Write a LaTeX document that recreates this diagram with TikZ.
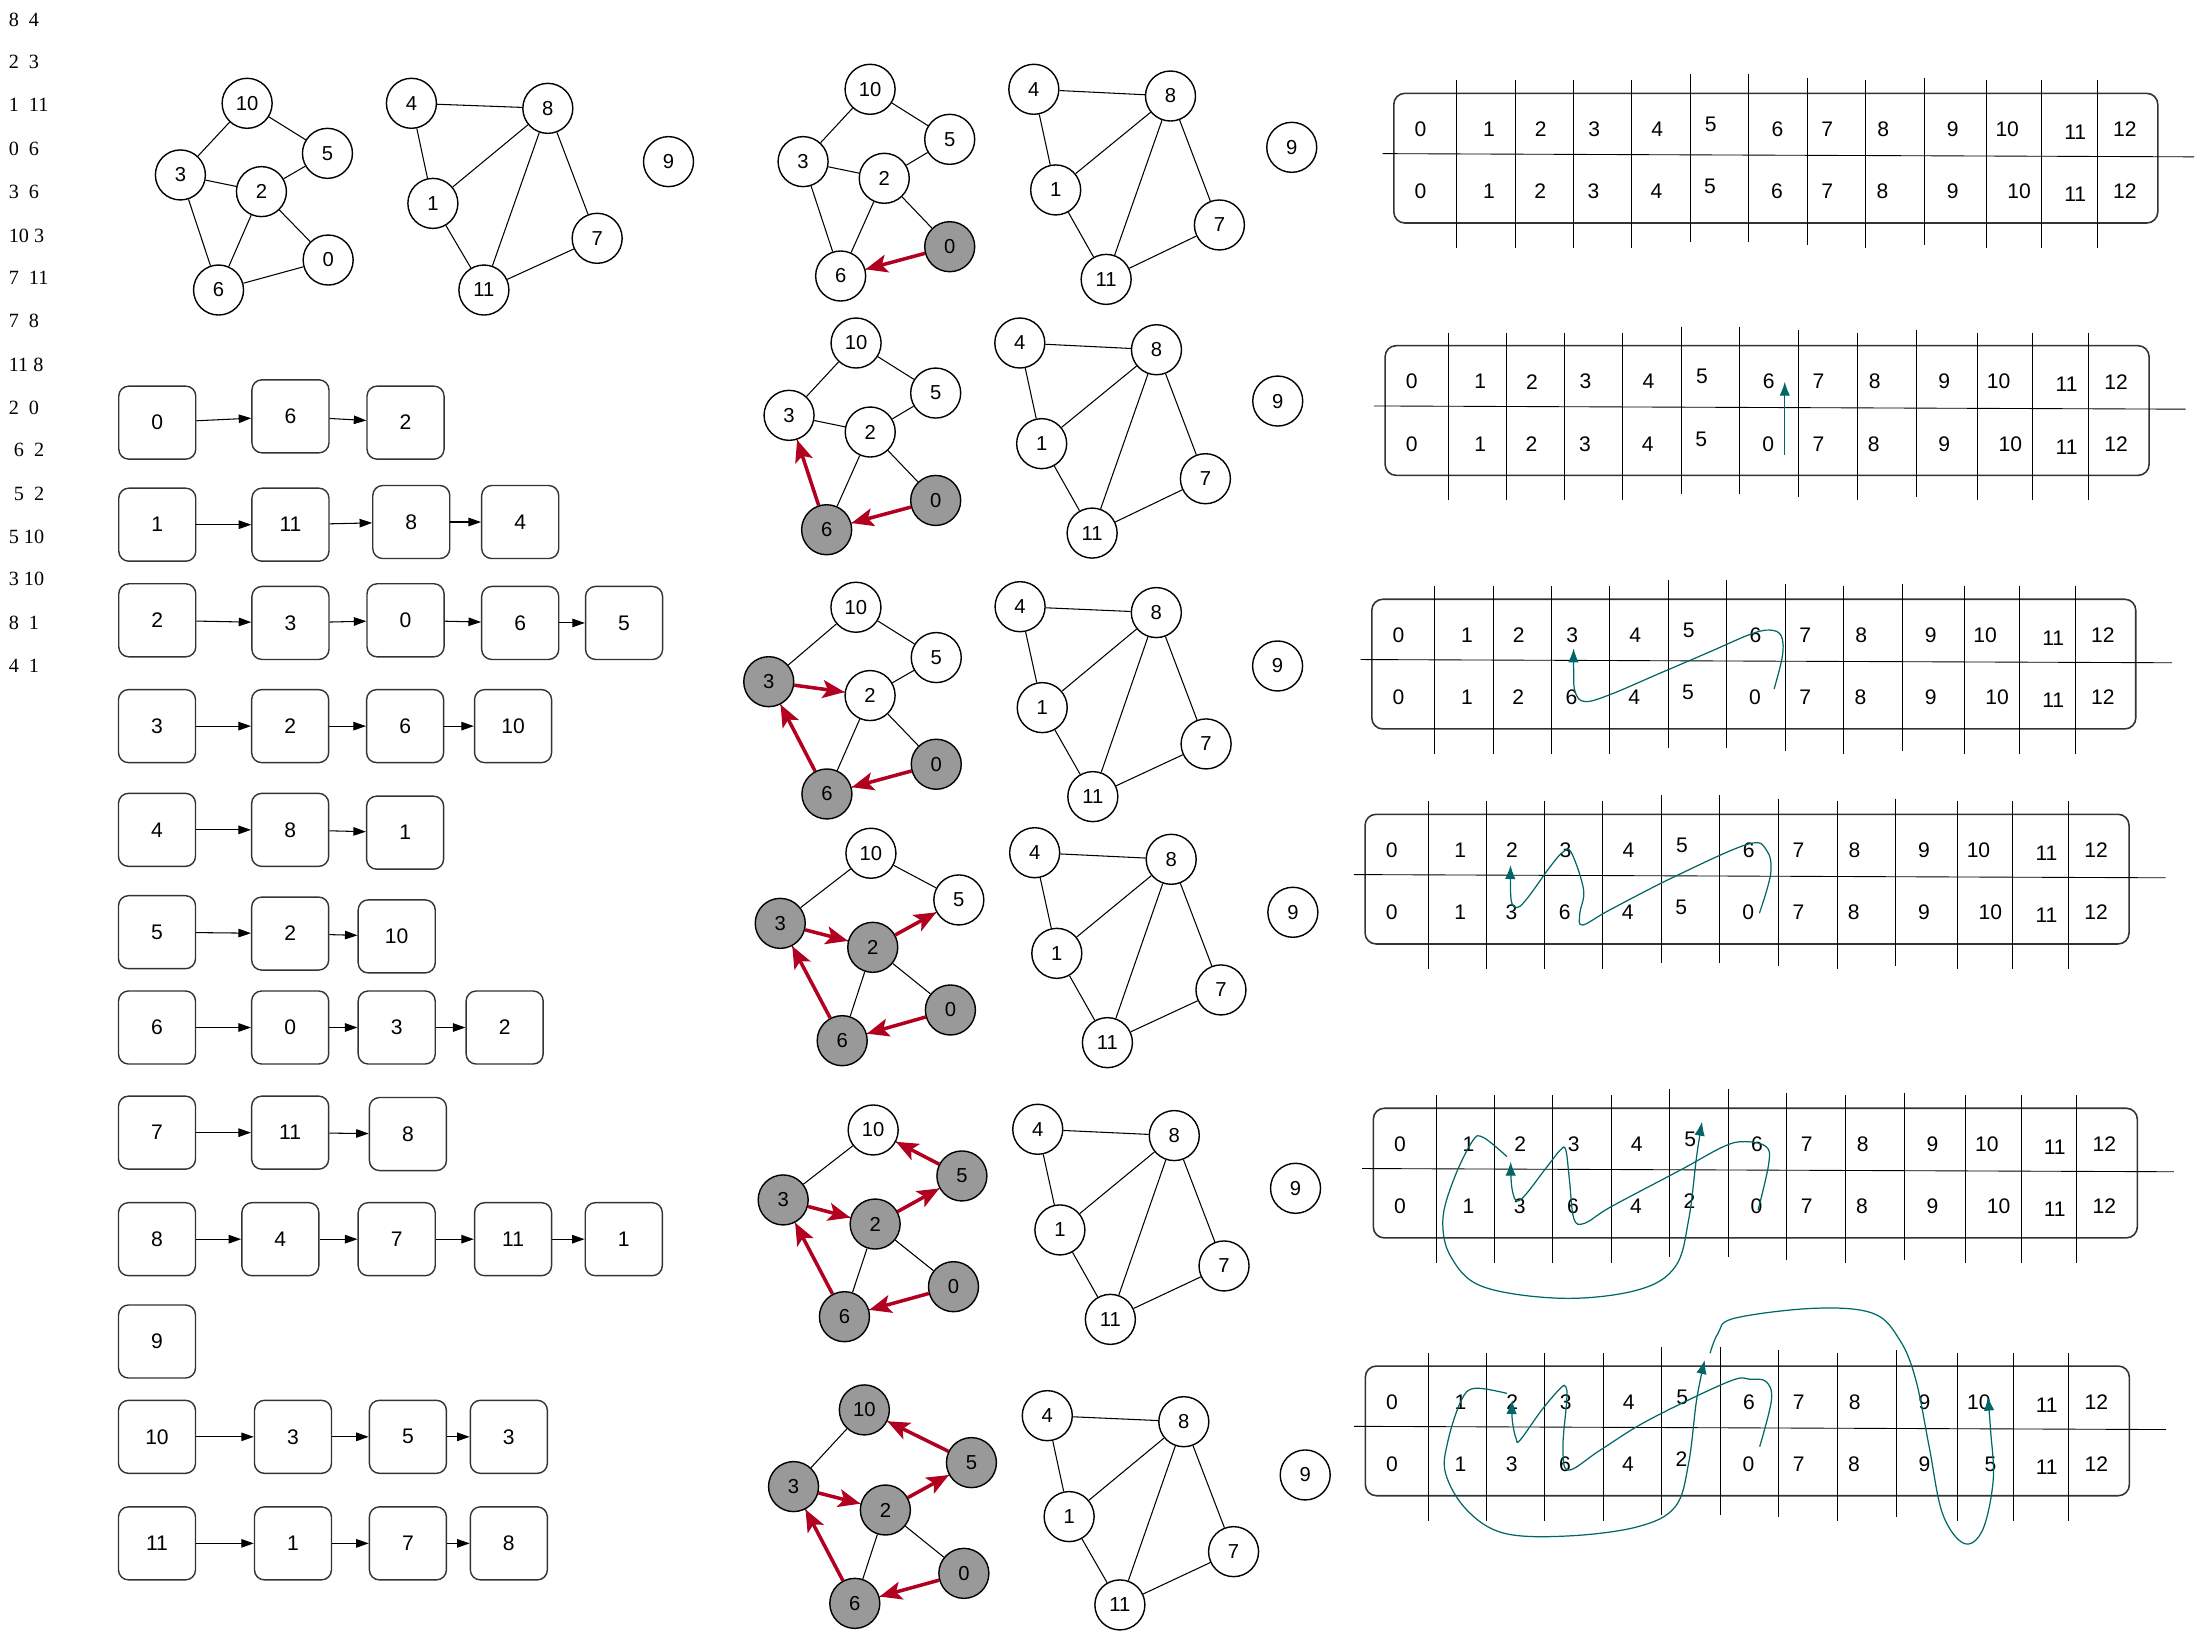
\documentclass[tikz,border=0pt]{standalone}
\usepackage{fontspec}
\setmainfont{Liberation Sans}
\newfontfamily\listfont{Liberation Serif}
\usetikzlibrary{arrows.meta}
\definecolor{nodegray}{RGB}{153,153,153}
\definecolor{dfsred}{RGB}{178,0,32}
\definecolor{traceteal}{RGB}{0,102,102}
\definecolor{framegray}{RGB}{51,51,51}
\tikzset{
  vtx/.style={circle, draw=black, line width=0.8pt, minimum size=1.0cm, inner sep=0pt,
              font=\fontsize{11.5}{13}\selectfont},
  edge/.style={line width=0.6pt},
  tree/.style={draw=dfsred, line width=2pt, -{Stealth[length=0.44cm,width=0.36cm,inset=0.1cm]}},
  cell/.style={draw=framegray, rounded corners=0.2cm, line width=0.8pt, minimum width=1.54cm,
               minimum height=1.46cm, font=\fontsize{12}{14}\selectfont},
  link/.style={line width=0.6pt, -{Triangle[length=0.25cm,width=0.17cm]}},
  tabframe/.style={draw=framegray, line width=0.9pt, rounded corners=0.22cm},
  tabrule/.style={line width=0.5pt},
  lbl/.style={inner sep=1pt, font=\fontsize{12}{14}\selectfont},
  trace/.style={draw=traceteal, line width=0.7pt, -{Latex[length=0.28cm,width=0.21cm]}},
  pair/.style={anchor=west, inner sep=0pt, font=\listfont\fontsize{11.5}{13}\selectfont},
}
% the fifteen edges of the graph, for a given node prefix
\newcommand{\graphedges}[1]{%
  \foreach \a/\b in {10/3,10/5,3/2,5/2,3/6,2/6,2/0,6/0,4/8,4/1,8/1,8/11,8/7,1/11,7/11}
    \draw[edge] (#1\a) -- (#1\b);}
% index / value table: #1 name, #2 top-left corner, #3 bottom row
\newcommand{\drawtable}[3]{%
  \begin{scope}[shift={#2}]
    \draw[tabframe] (0,0) rectangle (545,92.5);
    \draw[tabrule] (-8,43) -- (571,45.3);
    \foreach \x/\a/\b in {45/9.3/17.8, 86.5/9.3/17.8, 128/9.3/17.8, 169.5/9.3/17.8,
        211.4/13.6/13.6, 253.1/13.6/13.6, 295/11.2/15.5, 336.8/9.3/17.8,
        378.7/11.2/15.5, 422.7/9.3/17.8, 462/9.3/17.8, 501.7/9.3/17.8}
      \draw[tabrule] (\x,-\a) -- (\x,92.5+\b);
    \foreach \v [count=\k from 0] in {#3} {
      \pgfmathsetmacro{\cx}{{19,67.9,104.8,143,187.9,226.1,273.7,309.2,349.2,398.8,437.6,486.1,521.5}[\k]}
      \pgfmathsetmacro{\bx}{{19,67.9,104.5,142.5,187.3,225.5,273.3,309.2,348.6,398.8,446,486.1,521.5}[\k]}
      \pgfmathsetmacro{\dy}{{0,0,0,0,0,-3.6,0,0,0,0,0,2,0}[\k]}
      \pgfmathsetmacro{\ty}{25.7+\dy}
      \pgfmathsetmacro{\by}{70.1+\dy}
      \node[lbl] (#1t\k) at (\cx,\ty) {\k};
      \node[lbl] (#1b\k) at (\bx,\by) {\v};
    }
  \end{scope}}

\begin{document}
\begin{tikzpicture}[x=0.028036cm, y=-0.028036cm]
  \useasboundingbox (0,0) rectangle (1568,1174);

  % edge list
  \node[pair] (e1) at (6,14) {8\ \ 4};
  \node[pair] (e2) at (6,44) {2\ \ 3};
  \node[pair] (e3) at (6,75) {1\ \ 11};
  \node[pair] (e4) at (6,106) {0\ \ 6};
  \node[pair] (e5) at (6,137) {3\ \ 6};
  \node[pair] (e6) at (6,168) {10\ 3};
  \node[pair] (e7) at (6,198) {7\ \ 11};
  \node[pair] (e8) at (6,229) {7\ \ 8};
  \node[pair] (e9) at (6,260) {11\ 8};
  \node[pair] (e10) at (6,291) {2\ \ 0};
  \node[pair] (e11) at (6,321) {\ 6\ \ 2};
  \node[pair] (e12) at (6,352) {\ 5\ \ 2};
  \node[pair] (e13) at (6,383) {5\ 10};
  \node[pair] (e14) at (6,413) {3\ 10};
  \node[pair] (e15) at (6,444) {8\ \ 1};
  \node[pair] (e16) at (6,475) {4\ \ 1};

  % the graph
  \foreach \v/\x/\y in {10/176.3/73.7, 5/233.6/109.4, 3/128.7/124.8, 2/186.5/136.7, 0/234.1/185.5,
      6/155.9/206.9, 4/293.5/73.7, 8/390.8/77.3, 1/308.8/145.1, 7/426/170, 11/345.2/206.9, 9/476.9/115.3}
    \node[vtx] (g\v) at (\x,\y) {\v};
  \graphedges{g}

  % adjacency lists
  \node[cell] (r0c0) at (112.2,301.5) {0};
  \node[cell] (r0c1) at (207.2,297) {6};
  \node[cell] (r0c2) at (289.3,301.5) {2};
  \node[cell] (r1c0) at (112.2,374.3) {1};
  \node[cell] (r1c1) at (207.2,374.3) {11};
  \node[cell] (r1c2) at (293.4,372.4) {8};
  \node[cell] (r1c3) at (371.1,372.4) {4};
  \node[cell] (r2c0) at (112.2,442.5) {2};
  \node[cell] (r2c1) at (207.2,444.4) {3};
  \node[cell] (r2c2) at (289.3,442.5) {0};
  \node[cell] (r2c3) at (371.1,444.4) {6};
  \node[cell] (r2c4) at (445.2,444.4) {5};
  \node[cell] (r3c0) at (112,518) {3};
  \node[cell] (r3c1) at (207,518) {2};
  \node[cell] (r3c2) at (289,518) {6};
  \node[cell] (r3c3) at (366,518) {10};
  \node[cell] (r4c0) at (112,592) {4};
  \node[cell] (r4c1) at (207,592) {8};
  \node[cell] (r4c2) at (289,594) {1};
  \node[cell] (r5c0) at (112,665) {5};
  \node[cell] (r5c1) at (207,666) {2};
  \node[cell] (r5c2) at (283,668) {10};
  \node[cell] (r6c0) at (112,733) {6};
  \node[cell] (r6c1) at (207,733) {0};
  \node[cell] (r6c2) at (283,733) {3};
  \node[cell] (r6c3) at (360,733) {2};
  \node[cell] (r7c0) at (112,808) {7};
  \node[cell] (r7c1) at (207,808) {11};
  \node[cell] (r7c2) at (291,809) {8};
  \node[cell] (r8c0) at (112,884) {8};
  \node[cell] (r8c1) at (200,884) {4};
  \node[cell] (r8c2) at (283,884) {7};
  \node[cell] (r8c3) at (366,884) {11};
  \node[cell] (r8c4) at (445,884) {1};
  \node[cell] (r9c0) at (112,957) {9};
  \node[cell] (r10c0) at (112,1025) {10};
  \node[cell] (r10c1) at (209,1025) {3};
  \node[cell] (r10c2) at (291,1025) {5};
  \node[cell] (r10c3) at (363,1025) {3};
  \node[cell] (r11c0) at (112,1101) {11};
  \node[cell] (r11c1) at (209,1101) {1};
  \node[cell] (r11c2) at (291,1101) {7};
  \node[cell] (r11c3) at (363,1101) {8};
  \foreach \r/\n in {0/2, 1/3, 2/4, 3/3, 4/2, 5/2, 6/3, 7/2, 8/4, 10/3, 11/3}
    \foreach \c in {1,...,\n} {
      \pgfmathtruncatemacro{\p}{\c-1}
      \draw[link] (r\r c\p) -- (r\r c\c);
    }

  % DFS steps
  \foreach \v/\x/\y/\f in {10/620.7/63.7/white, 5/677.5/99.4/white, 3/572.9/115.3/white,
      2/630.8/127.2/white, 0/677.5/176/nodegray, 6/599.7/196.9/white, 4/737.5/63.7/white,
      8/835/68.5/white, 1/753.1/135.5/white, 7/869.9/160.5/white, 11/789.1/199.3/white, 9/921.5/105.1/white}
    \node[vtx, fill=\f] (s1n\v) at (\x,\y) {\v};
  \graphedges{s1n}
  \draw[tree] (s1n0) -- (s1n6);

  \foreach \v/\x/\y/\f in {10/610.7/244.7/white, 5/667.5/280.4/white, 3/562.9/296.3/white,
      2/620.8/308.2/white, 0/667.5/357/nodegray, 6/589.7/377.9/nodegray, 4/727.5/244.7/white,
      8/825/249.5/white, 1/743.1/316.5/white, 7/859.9/341.5/white, 11/779.1/380.3/white, 9/911.5/286.1/white}
    \node[vtx, fill=\f] (s2n\v) at (\x,\y) {\v};
  \graphedges{s2n}
  \foreach \a/\b in {0/6, 6/3} \draw[tree] (s2n\a) -- (s2n\b);

  \foreach \v/\x/\y/\f in {10/610.6/433.2/white, 5/667.9/469.1/white, 3/548.4/486.3/nodegray,
      2/620.7/496.2/white, 0/667.9/545.2/nodegray, 6/589.9/566.4/nodegray, 4/727.7/432.8/white,
      8/824.9/437/white, 1/743.5/504.8/white, 7/860.4/530.7/white, 11/779.6/568.3/white, 9/911.4/475.1/white}
    \node[vtx, fill=\f] (s3n\v) at (\x,\y) {\v};
  \graphedges{s3n}
  \foreach \a/\b in {0/6, 6/3, 3/2} \draw[tree] (s3n\a) -- (s3n\b);

  \foreach \v/\x/\y/\f in {10/621.3/608.7/white, 5/684/642/white, 3/556.6/658.7/nodegray,
      2/622.6/675.8/nodegray, 0/678/720.5/nodegray, 6/600.8/742.4/nodegray, 4/738.1/608.3/white,
      8/835.5/613/white, 1/753.9/680.1/white, 7/871/706.2/white, 11/790/743.8/white, 9/922.3/650.8/white}
    \node[vtx, fill=\f] (s4n\v) at (\x,\y) {\v};
  \graphedges{s4n}
  \foreach \a/\b in {0/6, 6/3, 3/2, 2/5} \draw[tree] (s4n\a) -- (s4n\b);

  \foreach \v/\x/\y/\f in {10/622.9/806.1/white, 5/686.2/838.9/nodegray, 3/558.7/856/nodegray,
      2/624.3/873.2/nodegray, 0/680.2/917.9/nodegray, 6/602.4/939.3/nodegray, 4/740.3/805.6/white,
      8/837.7/810.1/white, 1/756.1/877.4/white, 7/873.2/903.1/white, 11/792.1/941.2/white, 9/924.2/847.7/white}
    \node[vtx, fill=\f] (s5n\v) at (\x,\y) {\v};
  \graphedges{s5n}
  \foreach \a/\b in {0/6, 6/3, 3/2, 2/5, 5/10} \draw[tree] (s5n\a) -- (s5n\b);

  \foreach \v/\x/\y/\f in {10/616.6/1005.8/nodegray, 5/693/1043.4/nodegray, 3/566.1/1060.5/nodegray,
      2/631.6/1077.2/nodegray, 0/687.6/1122.4/nodegray, 6/609.8/1143.8/nodegray, 4/747.1/1009.9/white,
      8/844.5/1014.2/white, 1/762.7/1081.9/white, 7/880/1106.9/white, 11/798.9/1144.9/white, 9/931.1/1052.2/white}
    \node[vtx, fill=\f] (s6n\v) at (\x,\y) {\v};
  \graphedges{s6n}
  \foreach \a/\b in {0/6, 6/3, 3/2, 2/5, 5/10} \draw[tree] (s6n\a) -- (s6n\b);

  % tables
  \drawtable{T1}{(994.3,66.6)}{0,1,2,3,4,5,6,7,8,9,10,11,12}
  \drawtable{T2}{(988.1,246.6)}{0,1,2,3,4,5,0,7,8,9,10,11,12}
  \drawtable{T3}{(978.6,427.5)}{0,1,2,6,4,5,0,7,8,9,10,11,12}
  \drawtable{T4}{(973.8,580.9)}{0,1,3,6,4,5,0,7,8,9,10,11,12}
  \drawtable{T5}{(979.7,790.6)}{0,1,3,6,4,2,0,7,8,9,10,11,12}
  \drawtable{T6}{(974,974.5)}{0,1,3,6,4,2,0,7,8,9,5,11,12}

  % traces
  \begin{scope}[shift={(988.1,246.6)}]
    \draw[trace] (285.1,78) -- (285.1,25.7);
  \end{scope}
  \begin{scope}[shift={(978.6,427.5)}]
    \draw[trace] plot[smooth, tension=0.6] coordinates {(287,64) (293,40) (292,26) (284,22)
      (270,25) (240,38) (205,53) (170,68) (152,73) (145,66) (144,50) (144,35)};
  \end{scope}
  \begin{scope}[shift={(973.8,580.9)}]
    \draw[trace] plot[smooth, tension=0.6] coordinates {(281.3,70.6) (289.4,42.1) (286.3,25.5)
      (272.8,21.4) (220.7,44.5) (174.4,68.3) (155.1,79) (153.2,70.6) (155.9,54) (147.4,27.8)
      (141.6,26.6) (132,37.4) (116.6,58.8) (108.8,66.4) (104.2,61.1) (103.8,36.2)};
  \end{scope}
  \begin{scope}[shift={(979.7,790.6)}]
    \draw[trace] plot[smooth, tension=0.6] coordinates {(274.5,72.6) (282.1,39.3) (280.2,27.4)
      (265,23.8) (249.7,27.4) (219.2,44) (169.7,70.2) (150.6,82.1) (143,78.5) (139.9,51.2)
      (137.3,29.8) (133.4,29.8) (123.9,41.7) (104.8,65.4) (99.1,58.3) (98,38.1)};
    \draw[trace] plot[smooth, tension=0.6] coordinates {(95.3,34.5) (78.2,20.7) (70.5,23.8)
      (57.2,51.2) (49.6,79.7) (55.3,105.9) (78.2,127.3) (135.4,135.6) (188.7,129.6)
      (215.4,113) (224.9,79.7) (230.6,34.5) (234.5,9.6)};
  \end{scope}
  \begin{scope}[shift={(974,974.5)}]
    \draw[trace] plot[smooth, tension=0.6] coordinates {(281.3,57.5) (289.7,24.2) (285.9,11.1)
      (274.5,9.5) (259.2,11.1) (202.1,38.5) (167.7,59.9) (144.9,74.2) (141,57.5) (143.7,24.2)
      (143,14.7) (139.1,15.9) (125.8,31.4) (110.5,52.7) (107.5,51.6) (104.8,38.5) (104.8,24.2)};
    \draw[trace] plot[smooth, tension=0.6] coordinates {(101,19.5) (78.1,15.9) (68.6,24.2)
      (59.1,52.7) (57.2,76.5) (72.4,102.7) (99.1,119.3) (144.9,121.2) (194.4,114.6)
      (221.1,100.3) (230.6,69.4) (236.3,24.2) (242.1,-4.3)};
    \draw[trace] plot[smooth, tension=0.6] coordinates {(245.9,-9.1) (251.6,-23.3) (263,-34)
      (320.2,-41.2) (362.1,-37.6) (381.2,-18.6) (392.7,9.9) (402.2,57.5) (411.7,105.1)
      (427,126.5) (440.3,117) (447.9,81.3) (446,45.6) (444.1,21.8)};
  \end{scope}
\end{tikzpicture}
\end{document}
